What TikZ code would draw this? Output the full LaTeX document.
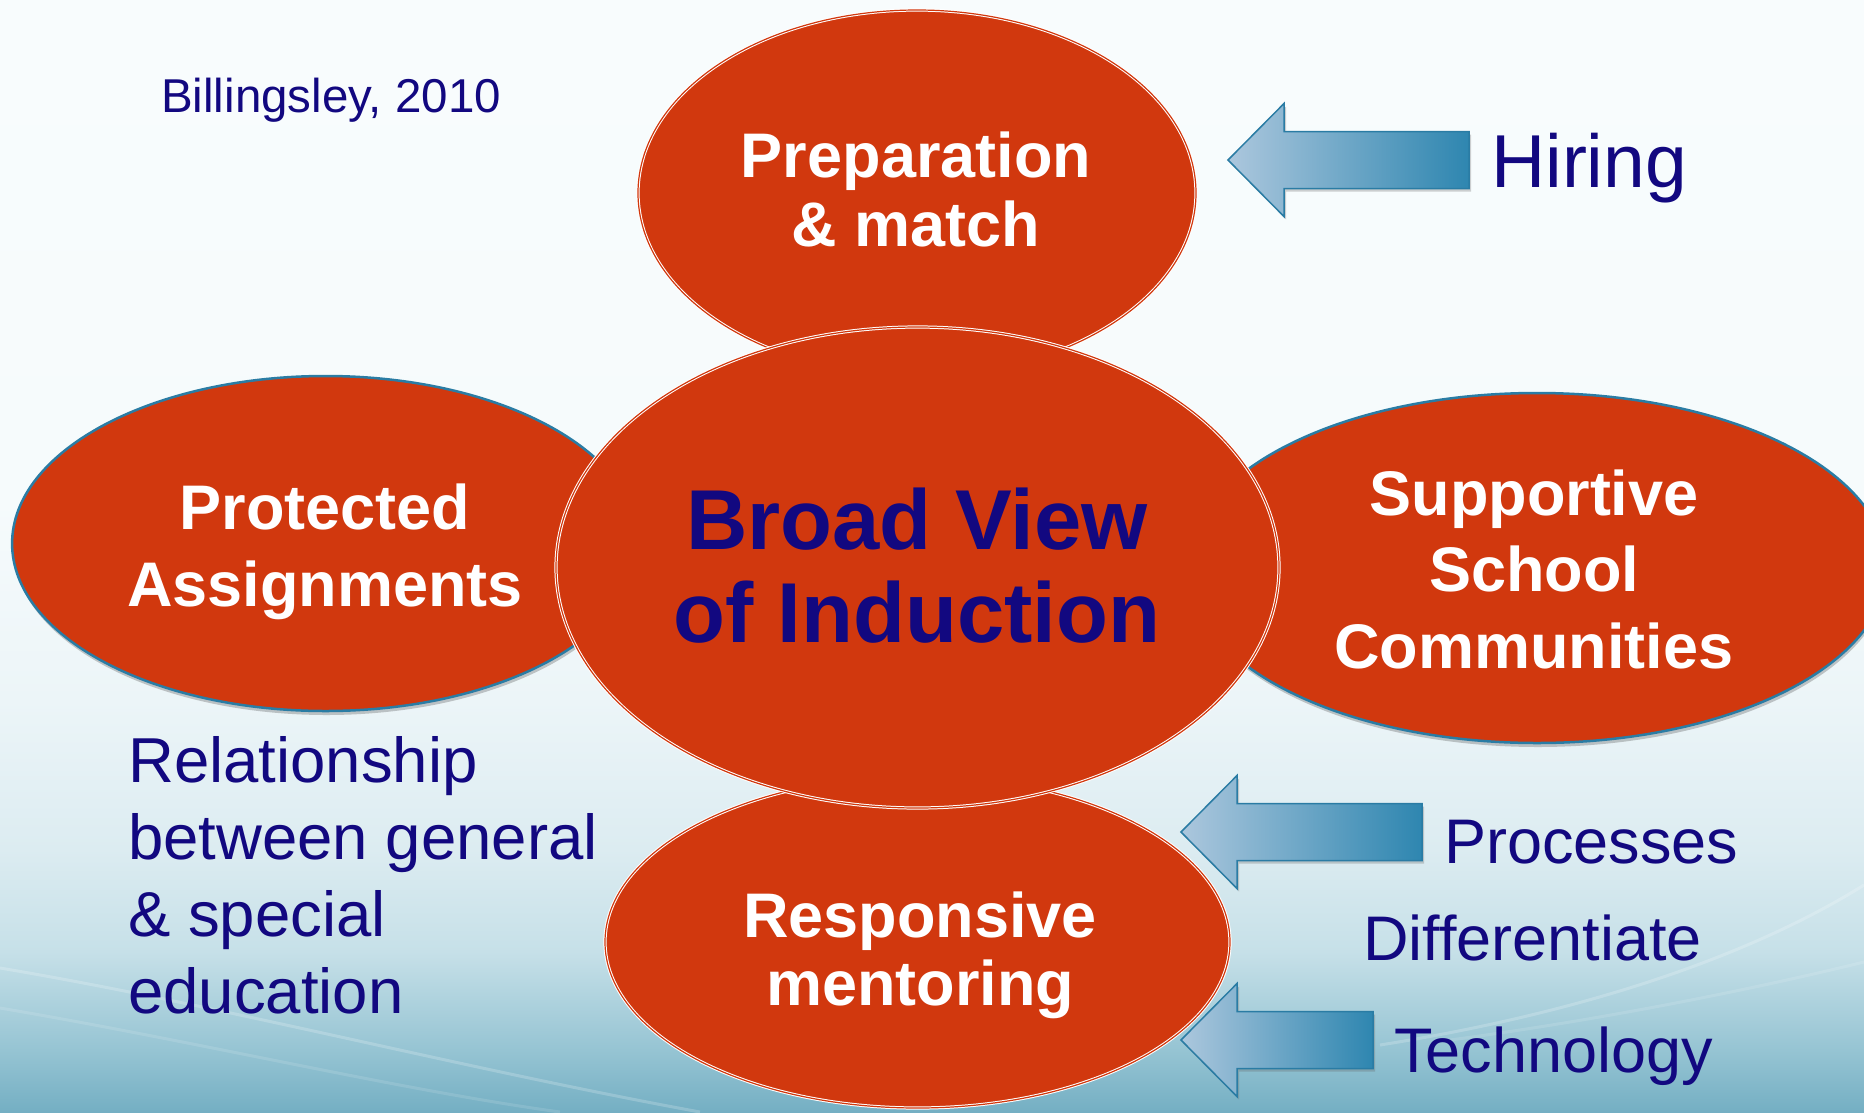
\documentclass[tikz,border=0pt]{standalone}
\usepackage{fontspec}
\setmainfont{Liberation Sans}
\usetikzlibrary{shapes.geometric,shadows}

\definecolor{slidered}{RGB}{209,56,14}
\definecolor{inknavy}{RGB}{18,8,128}
\definecolor{rimblue}{RGB}{42,124,164}
\definecolor{arrowlight}{RGB}{172,199,221}
\definecolor{arrowdark}{RGB}{46,134,176}
\definecolor{bgA}{RGB}{116,175,195}
\definecolor{bgB}{RGB}{150,196,211}
\definecolor{bgC}{RGB}{198,224,232}
\definecolor{bgD}{RGB}{220,236,241}
\definecolor{bgE}{RGB}{236,245,248}
\definecolor{bgF}{RGB}{246,251,252}
\definecolor{bgG}{RGB}{248,252,253}

% slide backdrop: pale at the top, turning teal towards the bottom edge
\pgfdeclareverticalshading{slidebg}{100bp}{%
  color(0bp)=(bgA); color(25bp)=(bgA); color(27.8bp)=(bgB);
  color(32.2bp)=(bgC); color(36.8bp)=(bgD); color(43.5bp)=(bgE);
  color(52.5bp)=(bgF); color(75bp)=(bgG); color(100bp)=(bgG)}

\tikzset{
  blob/.style={ellipse, fill=slidered, inner sep=0pt},
  rimmed/.style={blob, draw=rimblue, line width=2.5pt,
    drop shadow={shadow xshift=1pt, shadow yshift=-4pt, opacity=0.3, fill=black!70}},
  ringed/.style={blob, draw=white, line width=1pt, double=slidered, double distance=1.2pt},
  headtext/.style={text=white, align=center, anchor=base, inner sep=0pt,
    font=\fontsize{63}{#1}\selectfont\bfseries},
  titletext/.style={text=inknavy, align=center, anchor=base, inner sep=0pt,
    font=\fontsize{85}{93}\selectfont\bfseries},
  note/.style={text=inknavy, align=left, anchor=base west, inner sep=0pt,
    font=\fontsize{#1}{77}\selectfont},
  blockarrow/.style={left color=arrowlight, right color=arrowdark, draw=rimblue,
    line width=1.5pt, line join=miter,
    drop shadow={shadow xshift=2pt, shadow yshift=-3pt, opacity=0.3, fill=black!60}},
  swoosh/.style={draw=white, line width=3pt, opacity=0.2}
}

% left-pointing block arrow: tip (#1,#2), overall length #3
\newcommand{\leftblockarrow}[3]{%
  \filldraw[blockarrow] (#1,#2) -- ++(56,-56.5) -- ++(0,28) -- ++({#3-56},0)
    -- ++(0,57) -- ++({56-#3},0) -- ++(0,28) -- cycle;}

\begin{document}
\begin{tikzpicture}[x=1pt, y=-1pt]
  \useasboundingbox (0,0) rectangle (1864,1112);
  \clip (0,0) rectangle (1864,1112);

  % backdrop
  \path[shading=slidebg] (0,0) rectangle (1864,1112);
  \draw[swoosh] (0,968) .. controls (220,1005) and (460,1068) .. (700,1112);
  \draw[swoosh, opacity=0.12] (0,1008) .. controls (200,1042) and (400,1090) .. (560,1112);
  \draw[swoosh] (1864,885) .. controls (1760,950) and (1600,1010) .. (1380,1045);
  \draw[swoosh, opacity=0.12] (1864,962) .. controls (1750,990) and (1600,1020) .. (1450,1040);

  % side ellipses
  \node[rimmed, minimum width=627pt, minimum height=335pt] (prot) at (325.6,543.5) {};
  \node[rimmed, minimum width=700pt, minimum height=350pt] (supp) at (1537,568) {};

  % top and bottom ellipses
  \node[ringed, minimum width=558pt, minimum height=366pt] (prep) at (917,193) {};
  \node[ringed, minimum width=625pt, minimum height=332pt] (resp) at (917.5,942) {};

  % central ellipse
  \node[ringed, minimum width=723pt, minimum height=481pt] (core) at (917.5,567.5) {};

  % ellipse labels (anchored on the baseline of their last line)
  \node[headtext=69] (prepT) at (916,246) {Preparation\\\& match};
  \node[headtext=77] (protT) at (325,606) {Protected\\Assignments};
  \node[headtext=76.5] (suppT) at (1534,668) {Supportive\\School\\Communities};
  \node[headtext=68] (respT) at (920,1005) {Responsive\\mentoring};
  \node[titletext] (coreT) at (917,642) {Broad View\\of Induction};

  % block arrows
  \leftblockarrow{1228}{160}{241}
  \leftblockarrow{1181}{832}{241}
  \leftblockarrow{1181}{1040}{192}

  % free texts
  \node[note=47.5] (cite) at (161,112) {Billingsley, 2010};
  \node[note=75] (hire) at (1491,187) {Hiring};
  \node[note=63] (proc) at (1444,863) {Processes};
  \node[note=63] (diff) at (1363,960) {Differentiate};
  \node[note=63] (tech) at (1394,1072) {Technology};
  \node[note=63.5] (rel) at (128,1013) {Relationship\\between general\\\& special\\education};
\end{tikzpicture}
\end{document}
